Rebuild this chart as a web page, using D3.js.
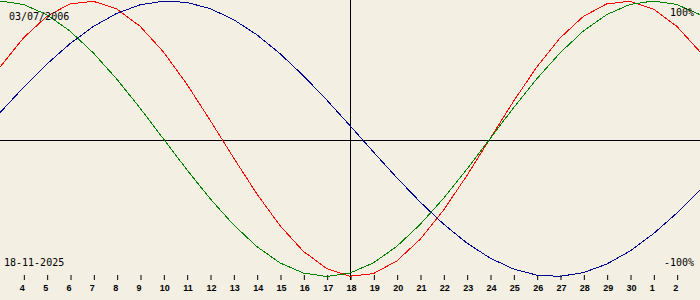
<!DOCTYPE html>
<html>
<head>
<meta charset="utf-8">
<script src="https://cdn.jsdelivr.net/npm/d3@7"></script>
<style>
  html, body { margin: 0; padding: 0; background: #f3efe3; }
  svg { display: block; }
  .txt { font-family: "DejaVu Sans Mono", monospace; font-size: 10px; fill: #000; }
  .tick text { font-family: "Liberation Sans", Arial, sans-serif; font-size: 9px; font-weight: bold; fill: #000; }
</style>
</head>
<body>
<script>
// biorhythm for 03/07/2006 around 18-11-2025, one value per day (Nov 3 .. Dec 3)
var birthLabel = "03/07/2006";
var dateLabel = "18-11-2025";
var dayLabels = [3, 4, 5, 6, 7, 8, 9, 10, 11, 12, 13, 14, 15, 16, 17, 18,
    19, 20, 21, 22, 23, 24, 25, 26, 27, 28, 29, 30, 1, 2, 3];
var physical = [52.0, 73.1, 88.8, 97.9, 99.8, 94.2, 81.7, 63.1, 39.8, 13.6,
    -13.6, -39.8, -63.1, -81.7, -94.2, -99.8, -97.9, -88.8, -73.1, -52.0, -27.0,
    0, 27.0, 52.0, 73.1, 88.8, 97.9, 99.8, 94.2, 81.7, 63.1];
var emotional = [100, 97.5, 90.1, 78.2, 62.3, 43.4, 22.3, 0, -22.3, -43.4,
    -62.3, -78.2, -90.1, -97.5, -100, -97.5, -90.1, -78.2, -62.3, -43.4, -22.3,
    0, 22.3, 43.4, 62.3, 78.2, 90.1, 97.5, 100, 97.5, 90.1];
var intellectual = [18.9, 37.2, 54.1, 69.0, 81.5, 91.0, 97.2, 99.9, 99.0, 94.5,
    86.6, 75.6, 61.8, 45.8, 28.2, 9.5, -9.5, -28.2, -45.8, -61.8, -75.6,
    -86.6, -94.5, -99.0, -99.9, -97.2, -91.0, -81.5, -69.0, -54.1, -37.2];
var todayIndex = 15;

var W = 700, H = 300;

var x = d3.scaleLinear()
    .domain([0, dayLabels.length - 1])
    .range([0, W]);
var y = d3.scaleLinear()
    .domain([-100, 100])
    .range([276.5, 1]);

var svg = d3.select("body").append("svg")
    .attr("width", W)
    .attr("height", H);

svg.append("rect")
    .attr("width", W)
    .attr("height", H)
    .attr("fill", "#f3efe3");

// zero line and today line
svg.append("line")
    .attr("x1", 0).attr("x2", W)
    .attr("y1", 140.5).attr("y2", 140.5)
    .attr("stroke", "#000");
svg.append("line")
    .attr("x1", Math.round(x(todayIndex)) + 0.5)
    .attr("x2", Math.round(x(todayIndex)) + 0.5)
    .attr("y1", 0).attr("y2", 280)
    .attr("stroke", "#000");

// day ticks
var axis = d3.axisBottom(x)
    .tickValues(d3.range(1, dayLabels.length - 1))
    .tickFormat(function (d) { return dayLabels[d]; })
    .tickSize(5)
    .tickPadding(3);
var ax = svg.append("g")
    .attr("transform", "translate(0.5,275)")
    .call(axis);
ax.select(".domain").remove();
ax.selectAll(".tick line").attr("stroke", "#000");
ax.selectAll(".tick text")
    .attr("text-anchor", "start")
    .attr("x", -4.5)
    .attr("y", 16)
    .attr("dy", null);

var line = d3.line()
    .x(function (d, i) { return x(i); })
    .y(function (d) { return y(d); });

var series = [
    { values: physical, color: "#ff0000" },
    { values: emotional, color: "#008000" },
    { values: intellectual, color: "#000090" }
];
svg.append("g").selectAll("path")
    .data(series)
    .enter().append("path")
    .attr("d", function (d) { return line(d.values); })
    .attr("fill", "none")
    .attr("stroke", function (d) { return d.color; })
    .attr("stroke-width", 1)
    .attr("shape-rendering", "crispEdges");

// labels
svg.append("text").attr("class", "txt")
    .attr("x", 9).attr("y", 20)
    .text(birthLabel);
svg.append("text").attr("class", "txt")
    .attr("x", 4).attr("y", 266)
    .text(dateLabel);
svg.append("text").attr("class", "txt")
    .attr("x", 694).attr("y", 16)
    .attr("text-anchor", "end")
    .text("100%");
svg.append("text").attr("class", "txt")
    .attr("x", 694).attr("y", 266)
    .attr("text-anchor", "end")
    .text("-100%");
</script>
</body>
</html>
